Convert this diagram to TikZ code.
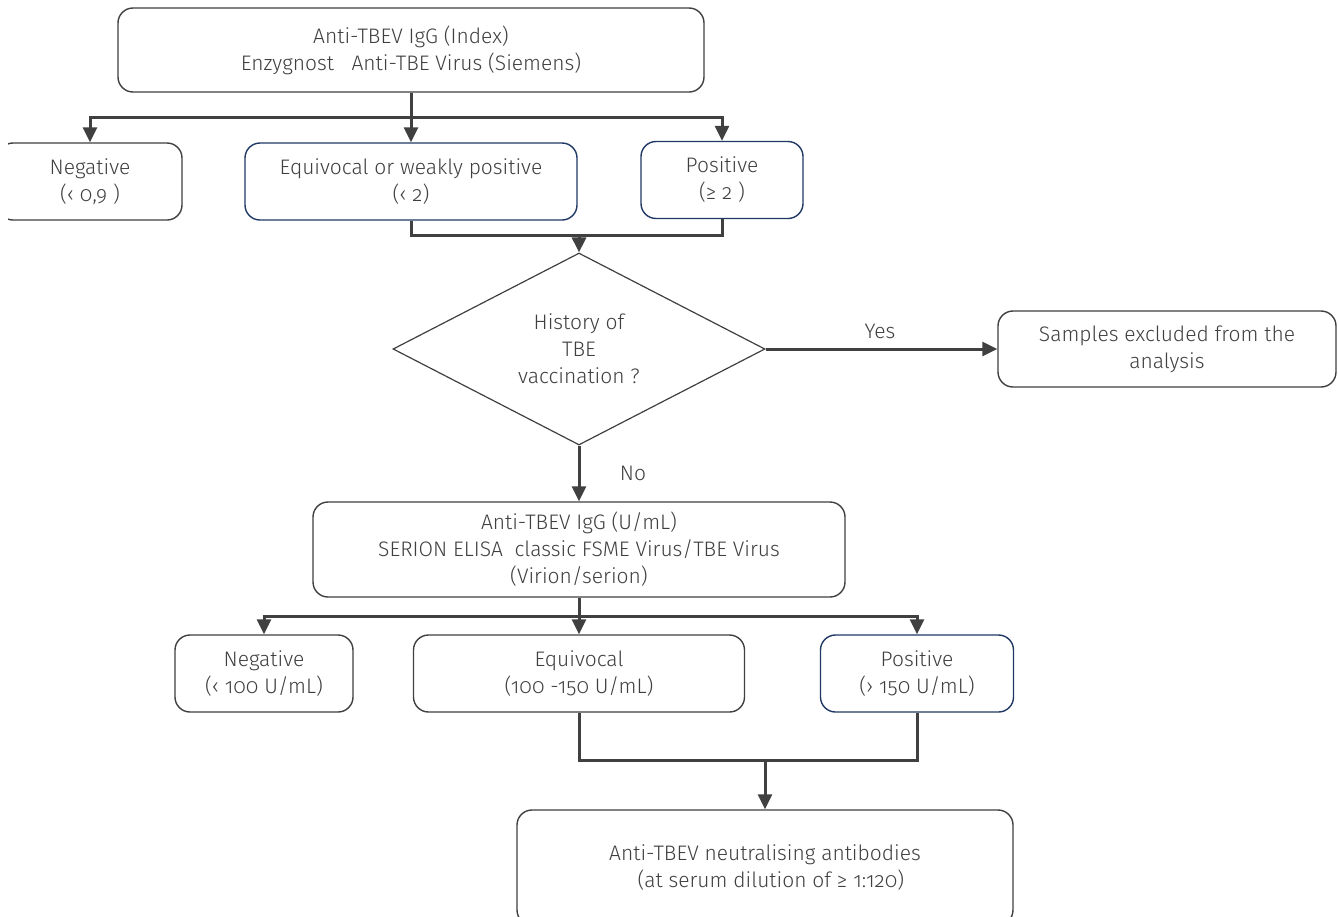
\documentclass[tikz,border=0pt]{standalone}
\usepackage{fontspec}
\setmainfont{Fira Sans Light}[Numbers=OldStyle]
\usetikzlibrary{shapes.geometric,arrows.meta}
\definecolor{ln}{HTML}{404040}
\definecolor{tx}{HTML}{3F3F3F}
\definecolor{bl}{HTML}{1F3864}
\begin{document}
\begin{tikzpicture}[x=1pt,y=-1pt,
  box/.style={draw=ln, line width=1.4pt, rounded corners=15pt, align=center, text=tx,
    font=\fontsize{21}{27}\selectfont, inner sep=0pt},
  bbox/.style={box, draw=bl},
  conn/.style={draw=ln, line width=3pt},
  arr/.style={conn, -{Triangle[length=15pt,width=14pt]}},
  lab/.style={text=tx, font=\fontsize{21}{27}\selectfont, inner sep=0pt}]
\clip (0,0) rectangle (1338,916);
\fill[white] (0,0) rectangle (1338,916);

\node[box, minimum width=586pt, minimum height=84pt] (top) at (411,50)
  {Anti-TBEV IgG (Index)\\Enzygnost\ \ \ Anti-TBE Virus (Siemens)};

\begin{scope}
\clip (8,100) rectangle (400,300);
\node[box, minimum width=184pt, minimum height=77pt] (neg1) at (90,181.5)
  {Negative\\(‹ 0,9 )};
\end{scope}
\node[bbox, minimum width=332pt, minimum height=77pt] (eq1) at (411,181.5)
  {Equivocal or weakly positive\\(‹ 2)};
\node[bbox, minimum width=162pt, minimum height=77pt] (pos1) at (722,180)
  {Positive\\(≥ 2 )};

\node[shape=diamond, draw=ln, line width=1.2pt, aspect=1.94, minimum width=372pt,
  minimum height=192pt, inner sep=0pt, align=center, text=tx,
  font=\fontsize{21}{27}\selectfont] (dia) at (579,349)
  {History of\\TBE\\vaccination ?};

\node[box, minimum width=338pt, minimum height=76pt] (samp) at (1167,349)
  {Samples excluded from the\\analysis};

\node[box, minimum width=532pt, minimum height=95pt] (serion) at (579,549.5)
  {Anti-TBEV IgG (U/mL)\\SERION ELISA\ \ classic FSME Virus/TBE Virus\\(Virion/serion)};

\node[box, minimum width=178pt, minimum height=77pt] (neg2) at (264,673.5)
  {Negative\\(‹ 100 U/mL)};
\node[box, minimum width=331pt, minimum height=77pt] (eq2) at (579,673.5)
  {Equivocal\\(100 -150 U/mL)};
\node[bbox, minimum width=193pt, minimum height=77pt] (pos2) at (917,673.5)
  {Positive\\(› 150 U/mL)};

\node[box, minimum width=496pt, minimum height=115pt] (bot) at (765,867.5)
  {Anti-TBEV neutralising antibodies\\\ \ (at serum dilution of ≥ 1:120)};

\node[lab] (yes) at (880,331) {Yes};
\node[lab] (no) at (633,473) {No};

\coordinate (j1) at (411,117);
\coordinate (j2) at (579,235);
\coordinate (j3) at (579,616);
\coordinate (j4) at (765,760);

\draw[conn] (top.south) -- (j1);
\draw[arr] (j1) -| (neg1.north);
\draw[arr] (j1) -| (pos1.north);
\draw[arr] (j1) -- (eq1.north);

\draw[conn] (eq1.south) |- (pos1.south |- j2) -- (pos1.south);
\draw[arr] (j2) -- (dia.north);

\draw[arr] (dia.east) -- (samp.west);
\draw[arr] (dia.south) -- (serion.north);

\draw[conn] (serion.south) -- (j3);
\draw[arr] (j3) -| (neg2.north);
\draw[arr] (j3) -| (pos2.north);
\draw[arr] (j3) -- (eq2.north);

\draw[conn] (eq2.south) |- (pos2.south |- j4) -- (pos2.south);
\draw[arr] (j4) -- (bot.north);
\end{tikzpicture}
\end{document}
